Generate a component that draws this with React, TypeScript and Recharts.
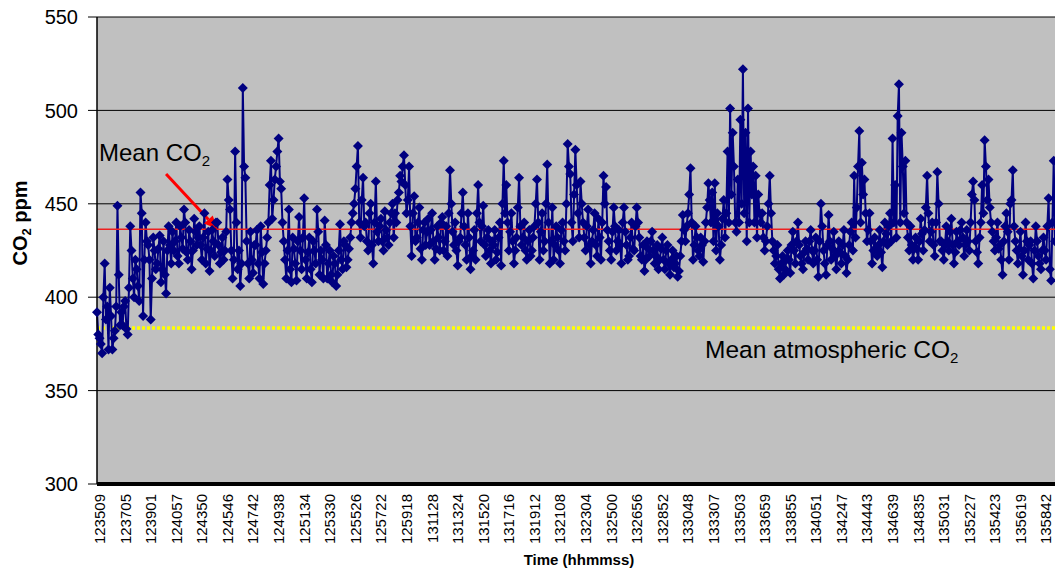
import { LineChart, Line, XAxis, YAxis, CartesianGrid, ReferenceLine } from "recharts";

// CO2 readings, 20 samples per labelled tick
const co2 = [
  392, 380, 378, 375, 370, 400, 418, 388, 395, 372, 405, 390, 372, 378, 382, 395, 449, 412, 385, 392,
  385, 395, 398, 383, 380, 405, 438, 425, 410, 400, 420, 415, 406, 398, 456, 445, 390, 420, 440, 430,
  428, 420, 388, 410, 432, 425, 415, 418, 426, 433, 408, 415, 430, 412, 402, 425, 438, 428, 418, 435,
  425, 430, 440, 422, 418, 438, 432, 426, 447, 440, 424, 420, 436, 430, 415, 425, 442, 435, 428, 432,
  438, 428, 420, 432, 445, 418, 426, 435, 414, 425, 436, 430, 422, 440, 440, 428, 418, 424, 432, 420,
  425, 435, 463, 452, 447, 425, 410, 420, 478, 440, 415, 425, 406, 418, 512, 470, 464, 430, 418, 410,
  435, 420, 413, 428, 428, 436, 418, 410, 438, 424, 407, 418, 425, 432, 440, 460, 473, 442, 452, 463,
  470, 478, 485, 462, 458, 440, 430, 420, 410, 425, 447, 415, 408, 432, 426, 418, 409, 430, 443, 425,
  415, 432, 453, 420, 410, 424, 432, 415, 408, 430, 425, 418, 447, 435, 412, 425, 420, 410, 441, 428,
  410, 418, 425, 412, 408, 422, 418, 406, 412, 425, 439, 420, 415, 430, 428, 416, 420, 426, 432, 440,
  445, 450, 458, 470, 481, 440, 432, 452, 464, 438, 440, 430, 425, 445, 450, 428, 418, 440, 462, 435,
  430, 438, 442, 430, 425, 446, 436, 432, 428, 440, 445, 450, 432, 445, 440, 452, 456, 465, 462, 470,
  476, 460, 445, 452, 470, 438, 422, 445, 454, 430, 432, 440, 448, 426, 420, 436, 440, 428, 435, 442,
  428, 436, 445, 430, 420, 426, 438, 432, 425, 440, 443, 425, 430, 438, 422, 445, 468, 450, 435, 428,
  440, 425, 417, 430, 432, 445, 456, 438, 428, 420, 445, 432, 415, 422, 425, 436, 420, 445, 460, 440,
  430, 438, 449, 428, 422, 432, 436, 425, 418, 430, 428, 436, 420, 424, 432, 440, 417, 450, 473, 445,
  460, 440, 425, 435, 445, 430, 418, 425, 432, 448, 464, 438, 428, 432, 440, 425, 420, 430, 436, 422,
  425, 432, 438, 450, 463, 440, 420, 435, 445, 425, 430, 450, 471, 440, 418, 430, 448, 420, 428, 438,
  432, 425, 418, 436, 440, 430, 425, 450, 482, 470, 466, 440, 430, 455, 479, 460, 445, 432, 462, 450,
  440, 432, 425, 438, 447, 428, 418, 430, 436, 445, 428, 422, 442, 432, 420, 440, 465, 450, 459, 436,
  430, 425, 420, 435, 448, 438, 425, 430, 436, 428, 418, 440, 448, 435, 428, 420, 422, 432, 440, 426,
  425, 438, 448, 440, 432, 422, 420, 428, 414, 420, 430, 426, 422, 430, 435, 425, 418, 422, 428, 415,
  420, 426, 432, 420, 415, 425, 428, 418, 412, 420, 425, 416, 418, 422, 411, 414, 422, 430, 444, 436,
  430, 438, 445, 455, 469, 440, 420, 428, 438, 432, 425, 422, 432, 428, 419, 430, 440, 448, 461, 452,
  440, 456, 430, 461, 425, 445, 438, 420, 428, 442, 452, 432, 445, 478, 440, 501, 455, 488, 470, 440,
  435, 463, 440, 495, 450, 522, 445, 488, 430, 501, 440, 478, 455, 470, 440, 465, 432, 455, 445, 440,
  445, 432, 425, 430, 438, 450, 465, 445, 430, 425, 418, 422, 428, 415, 410, 418, 422, 412, 415, 420,
  425, 420, 413, 428, 435, 425, 418, 430, 440, 428, 422, 418, 415, 424, 430, 426, 420, 430, 436, 425,
  418, 425, 432, 420, 411, 430, 450, 438, 425, 418, 412, 428, 444, 430, 420, 426, 435, 422, 415, 424,
  430, 424, 418, 428, 436, 422, 413, 420, 428, 435, 440, 425, 465, 432, 448, 470, 489, 440, 472, 455,
  463, 445, 430, 436, 445, 430, 418, 425, 432, 426, 422, 428, 436, 424, 416, 430, 440, 434, 428, 438,
  445, 430, 485, 440, 460, 432, 497, 514, 440, 488, 470, 445, 473, 440, 432, 425, 438, 428, 420, 426,
  432, 426, 420, 430, 442, 434, 425, 436, 448, 465, 445, 430, 435, 440, 428, 422, 440, 467, 450, 430,
  430, 425, 420, 428, 438, 430, 425, 435, 442, 428, 418, 424, 435, 430, 428, 436, 440, 432, 422, 428,
  436, 430, 425, 440, 455, 462, 452, 430, 424, 418, 432, 440, 460, 445, 484, 470, 452, 463, 448, 440,
  435, 430, 425, 432, 440, 426, 428, 420, 412, 430, 438, 445, 435, 420, 450, 452, 468, 438, 430, 425,
  418, 426, 435, 422, 412, 425, 440, 430, 420, 428, 430, 418, 410, 425, 438, 430, 422, 418, 415, 425,
  432, 425, 420, 438, 453, 415, 409, 440, 473, 430,
];

const timeLabels = [
  "123509", "123705", "123901", "124057", "124350", "124546", "124742",
  "124938", "125134", "125330", "125526", "125722", "125918", "131128",
  "131324", "131520", "131716", "131912", "132108", "132304", "132500",
  "132656", "132852", "133048", "133307", "133503", "133659", "133855",
  "134051", "134247", "134443", "134639", "134835", "135031", "135227",
  "135423", "135619", "135842",
];

const yTicks = [300, 350, 400, 450, 500, 550];
const meanCO2 = 436.4;
const meanAtmospheric = 383.5;
const SAMPLES_PER_TICK = 20;

const data = co2.map((v, i) => ({ i, co2: v }));
const xTicks = timeLabels.map((_, k) => k * SAMPLES_PER_TICK);

const FONT = "Arial, 'Liberation Sans', sans-serif";

const Diamond = (p: any) => {
  const { cx, cy, index } = p;
  if (cx == null || cy == null) return <g key={index} />;
  const r = 5;
  return (
    <path
      key={index}
      d={`M${cx},${cy - r}L${cx + r},${cy}L${cx},${cy + r}L${cx - r},${cy}Z`}
      fill='#000080'
    />
  );
};

const TimeTick = (p: any) => {
  const { x, y, payload } = p;
  const label = timeLabels[Math.round(payload.value / SAMPLES_PER_TICK)];
  return (
    <text
      x={x}
      y={y}
      dy={8}
      transform={`rotate(-90 ${x} ${y})`}
      textAnchor='end'
      fontSize={15}
      fontFamily={FONT}
      fill='#000'
    >
      {label}
    </text>
  );
};

const Arrow = (p: any) => {
  const { x1, y1, x2, y2 } = p;
  const a = Math.atan2(y2 - y1, x2 - x1);
  const len = 13;
  const w = 6;
  const bx = x2 - len * Math.cos(a);
  const by = y2 - len * Math.sin(a);
  const px = -Math.sin(a) * w;
  const py = Math.cos(a) * w;
  return (
    <g>
      <line x1={x1} y1={y1} x2={bx} y2={by} stroke='#ff0000' strokeWidth={3} />
      <polygon
        points={`${x2},${y2} ${bx + px},${by + py} ${bx - px},${by - py}`}
        fill='#ff0000'
      />
    </g>
  );
};

export default function App() {
  return (
    <div style={{ position: "absolute", left: 0, top: 0, width: 1055, height: 569, background: "#fff" }}>
      <LineChart
        width={1055}
        height={569}
        data={data}
        margin={{ top: 17, right: 0, bottom: 15, left: 0 }}
      >
        <CartesianGrid
          vertical={false}
          stroke='#000'
          strokeOpacity={1}
          fill='#c0c0c0'
          fillOpacity={1}
        />
        <XAxis
          dataKey='i'
          type='number'
          domain={[0, co2.length - 1]}
          ticks={xTicks}
          interval={0}
          height={70}
          tickLine={false}
          tickSize={0}
          tickMargin={10}
          axisLine={{ stroke: "#000", strokeWidth: 4 }}
          tick={<TimeTick />}
        />
        <YAxis
          domain={[300, 550]}
          ticks={yTicks}
          width={97}
          tickSize={9}
          tickMargin={10}
          axisLine={{ stroke: "#000", strokeWidth: 1.5 }}
          tickLine={{ stroke: "#000" }}
          tick={{ fontSize: 20, fontFamily: FONT, fill: "#000" }}
        />
        <ReferenceLine y={meanAtmospheric} stroke='#ffff00' strokeWidth={3.5} strokeDasharray='3 2' />
        <Line
          type='linear'
          dataKey='co2'
          stroke='#000080'
          strokeWidth={2}
          dot={Diamond}
          activeDot={false}
          isAnimationActive={false}
        />
        <ReferenceLine y={meanCO2} stroke='#ee2020' strokeWidth={1.5} />
        <ReferenceLine
          segment={[{ x: 54, y: 466 }, { x: 94, y: 436.5 }]}
          shape={<Arrow />}
        />
      </LineChart>
      <svg
        width={1055}
        height={569}
        style={{ position: "absolute", left: 0, top: 0, pointerEvents: "none" }}
      >
        <text x={99} y={161} fontSize={24} fontFamily={FONT} fill='#000'>
          Mean CO<tspan fontSize={15} dy={5}>2</tspan>
        </text>
        <text x={705} y={358} fontSize={24.5} fontFamily={FONT} fill='#000'>
          Mean atmospheric CO<tspan fontSize={15} dy={5}>2</tspan>
        </text>
        <text
          x={27}
          y={223}
          transform='rotate(-90 27 223)'
          textAnchor='middle'
          fontSize={20}
          fontWeight='bold'
          fontFamily={FONT}
          fill='#000'
        >
          CO<tspan fontSize={13} dy={4}>2</tspan>
          <tspan dy={-4}> ppm</tspan>
        </text>
        <text
          x={579}
          y={565}
          textAnchor='middle'
          fontSize={15}
          fontWeight='bold'
          fontFamily={FONT}
          fill='#000'
        >
          Time (hhmmss)
        </text>
      </svg>
    </div>
  );
}
